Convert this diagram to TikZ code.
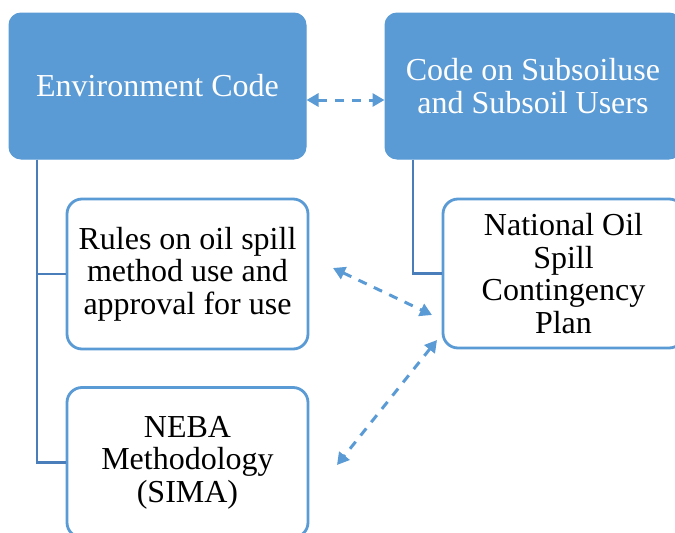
\documentclass[tikz,border=0pt]{standalone}
\usepackage{fontspec}
\setmainfont{Liberation Serif}
\usetikzlibrary{arrows.meta}
\definecolor{boxblue}{HTML}{5B9BD5}
\definecolor{linkblue}{HTML}{4A7EBB}
\tikzset{
  topbox/.style={rectangle, rounded corners=12pt, fill=boxblue, draw=boxblue, line width=1pt,
    text=white, align=center, font=\fontsize{32}{33}\selectfont, inner sep=0pt},
  subbox/.style={rectangle, rounded corners=15pt, fill=white, draw=boxblue, line width=2.8pt,
    text=black, align=center, font=\fontsize{32}{32.5}\selectfont, inner sep=0pt},
  conn/.style={draw=linkblue, line width=2.8pt},
  darr/.style={draw=boxblue, line width=3pt, dash pattern=on 9pt off 8pt,
    {Triangle[length=12pt,width=13pt]}-{Triangle[length=12pt,width=13pt]}}
}
\begin{document}
\begin{tikzpicture}[x=1pt,y=-1pt]
\useasboundingbox (0,0) rectangle (675,533);
\clip (0,0) rectangle (675,533);
\node[topbox, minimum width=297pt, minimum height=146pt] (env) at (157.5,86) {Environment Code};
\node[topbox, minimum width=296pt, minimum height=146pt] (sub) at (533,86) {Code on Subsoiluse\\and Subsoil Users};
\node[subbox, minimum width=241pt, minimum height=150pt] (rules) at (187.5,274) {Rules on oil spill\\method use and\\approval for use};
\node[subbox, minimum width=241pt, minimum height=149pt] (nos) at (563.5,273.5) {National Oil\\Spill\\Contingency\\Plan};
\node[subbox, minimum width=241pt, minimum height=150pt] (neba) at (187.5,462.5) {NEBA\\Methodology\\(SIMA)};
% tree connectors
\coordinate (tx) at (37,0);
\coordinate (sx) at (413,0);
\draw[conn] (env.south -| tx) |- (rules.west);
\draw[conn] (env.south -| tx) |- (neba.west);
\draw[conn] (sub.south -| sx) |- (nos.west);
% dashed double arrows
\coordinate (ay) at (0,100);
\draw[darr] (env.east |- ay) -- (sub.west |- ay);
\coordinate (a1) at (333,268);
\coordinate (a2) at (432,315);
\draw[darr] (a1) -- (a2);
\coordinate (b1) at (437,340);
\coordinate (b2) at (337,465);
\draw[darr] (b1) -- (b2);
\end{tikzpicture}
\end{document}
